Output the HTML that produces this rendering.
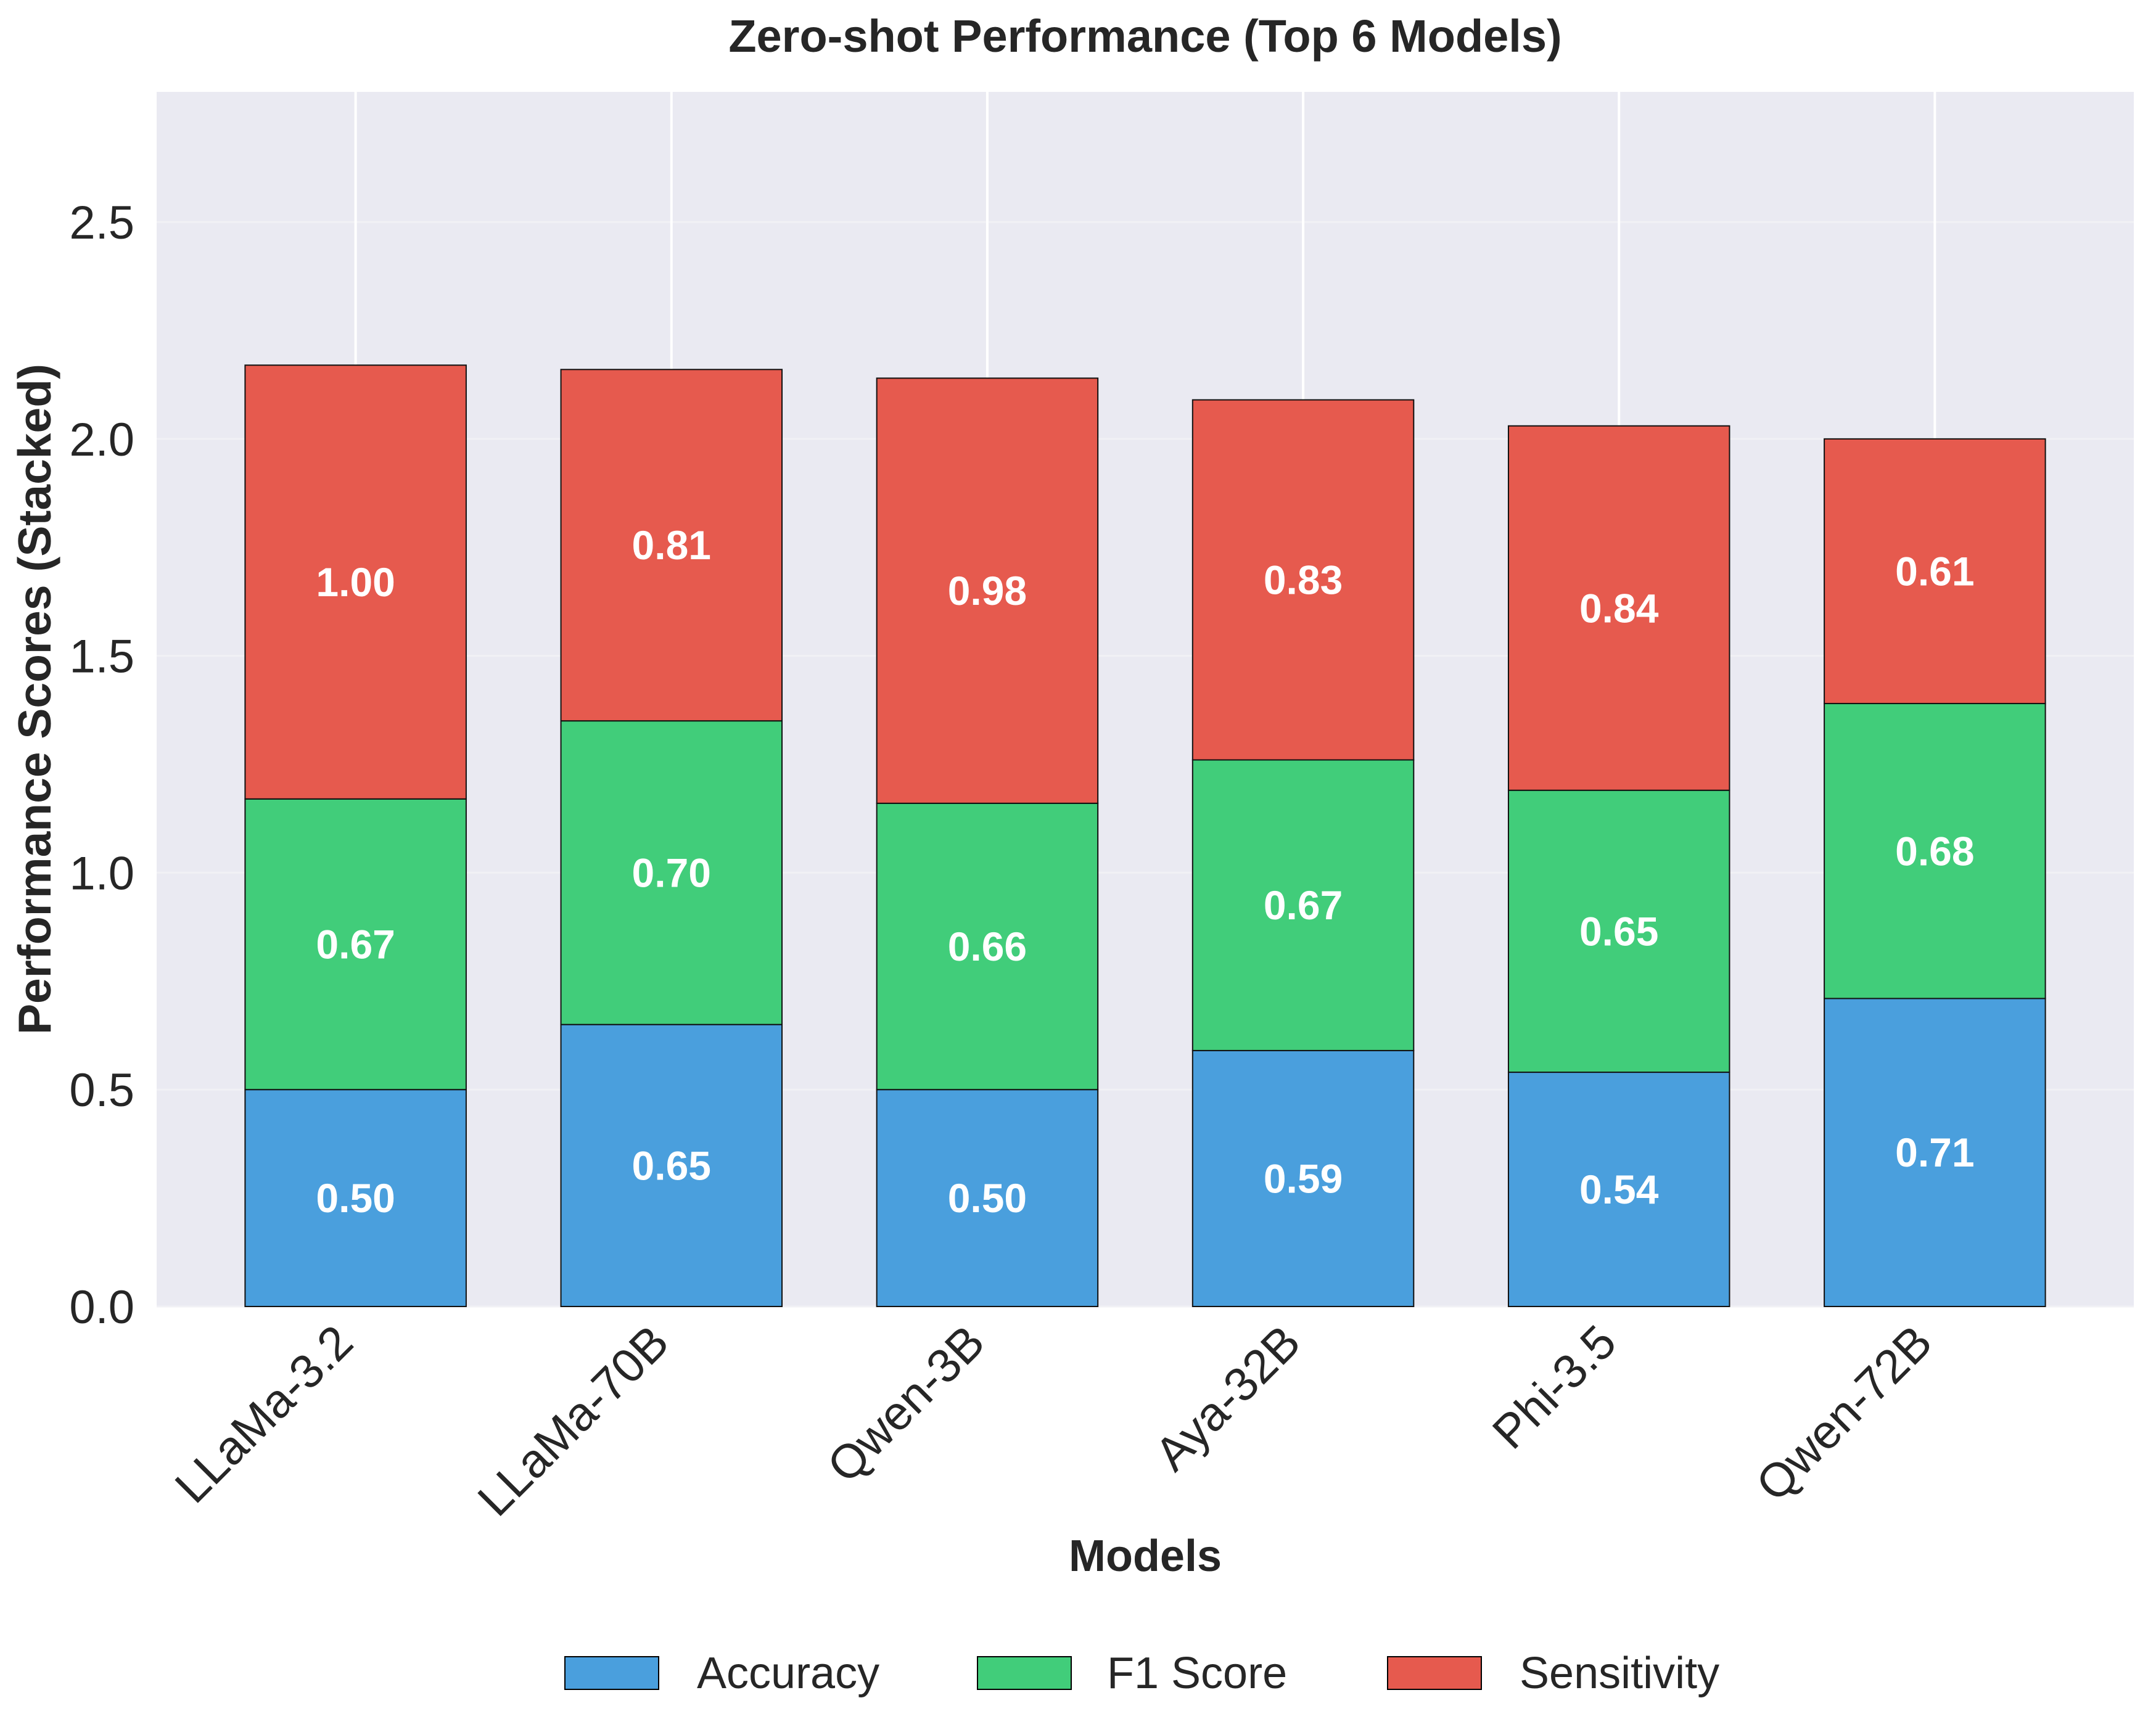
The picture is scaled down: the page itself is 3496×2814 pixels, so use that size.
<!DOCTYPE html>
<html><head><meta charset="utf-8">
<style>
html,body{margin:0;padding:0;background:#fff;}
svg{display:block;font-family:"Liberation Sans",sans-serif;}
</style></head>
<body>
<svg id="chart" width="3496" height="2814" viewBox="0 0 3496 2814" xmlns="http://www.w3.org/2000/svg">
<rect x="0" y="0" width="3496" height="2814" fill="#ffffff"/>
<text x="1857" y="84" text-anchor="middle" font-size="74" font-weight="bold" fill="#262626">Zero-shot Performance (Top 6 Models)</text>
<g id="plot"></g>
<text transform="translate(82,1134) rotate(-90)" text-anchor="middle" font-size="75" font-weight="bold" fill="#262626">Performance Scores (Stacked)</text>
<text x="1857" y="2548" text-anchor="middle" font-size="72" font-weight="bold" fill="#262626">Models</text>
<g>
  <g>
    <rect x="916" y="2687" width="152" height="53" fill="#4A9FDD" stroke="#000" stroke-width="2"/>
    <text x="1130" y="2738" font-size="72" fill="#262626">Accuracy</text>
  </g>
  <g>
    <rect x="1585" y="2687" width="152" height="53" fill="#41CD7A" stroke="#000" stroke-width="2"/>
    <text x="1795" y="2738" font-size="72" fill="#262626">F1 Score</text>
  </g>
  <g>
    <rect x="2250" y="2687" width="152" height="53" fill="#E65A4E" stroke="#000" stroke-width="2"/>
    <text x="2464" y="2738" font-size="72" fill="#262626">Sensitivity</text>
  </g>
</g>
</svg>
<script>
const models = ["LLaMa-3.2","LLaMa-70B","Qwen-3B","Aya-32B","Phi-3.5","Qwen-72B"];
const accuracy = [0.50,0.65,0.50,0.59,0.54,0.71];
const f1Score = [0.67,0.70,0.66,0.67,0.65,0.68];
const sensitivity = [1.00,0.81,0.98,0.83,0.84,0.61];
const yTicks = [0.0,0.5,1.0,1.5,2.0,2.5];
const yTickLabels = ["0.0","0.5","1.0","1.5","2.0","2.5"];

const NS = "http://www.w3.org/2000/svg";
const L = 254, R = 3460, T = 149, B = 2119;
const xMin = -0.63, xMax = 5.63, yMin = 0, yMax = 2.8;
const barW = 0.7;
function xs(v){ return L + (v - xMin) / (xMax - xMin) * (R - L); }
function ys(v){ return B - (v - yMin) / (yMax - yMin) * (B - T); }
function mk(tag, attrs, parent){
  const e = document.createElementNS(NS, tag);
  for (const k in attrs) e.setAttribute(k, attrs[k]);
  parent.appendChild(e);
  return e;
}
const plot = document.getElementById("plot");
const svg = document.getElementById("chart");

const bg = mk("rect", {x:L, y:T, width:R-L, height:B-T, fill:"#EAEAF2"}, plot);



yTicks.forEach((t, i) => {
  const g = mk("line", {x1:L, x2:R, y1:ys(t), y2:ys(t), stroke:"#F1F1F5", "stroke-width":3}, plot);
  
  
  const lbl = mk("text", {x:218, y:ys(t)+27, "text-anchor":"end", "font-size":76, fill:"#262626"}, svg);
  lbl.textContent = yTickLabels[i];
  
  
});
models.forEach((m, i) => {
  const g = mk("line", {x1:xs(i), x2:xs(i), y1:T, y2:B, stroke:"#ffffff", "stroke-width":4}, plot);
  
  
});

const series = [
  {vals: accuracy, color: "#4A9FDD", name: "accuracy"},
  {vals: f1Score, color: "#41CD7A", name: "f1-score"},
  {vals: sensitivity, color: "#E65A4E", name: "sensitivity"}
];
models.forEach((m, i) => {
  let base = 0;
  series.forEach(s => {
    const v = s.vals[i];
    const y0 = ys(base), y1 = ys(base + v);
    const r = mk("rect", {x:xs(i - barW/2), y:y1, width:xs(i + barW/2) - xs(i - barW/2), height:y0 - y1, fill:s.color, stroke:"#111", "stroke-width":2}, plot);
    
    
    const t = mk("text", {x:xs(i), y:(y0 + y1)/2 + 23, "text-anchor":"middle", "font-size":66, "font-weight":"bold", fill:"#ffffff"}, plot);
    t.textContent = v.toFixed(2);
    
    
    base += v;
  });
  const px = xs(i) + 0, py = 2182;
  const tl = mk("text", {x:px, y:py, "text-anchor":"end", "font-size":77, fill:"#262626", transform:"rotate(-45 " + px + " " + py + ")"}, svg);
  tl.textContent = m;
  
  
});
</script>
</body></html>
